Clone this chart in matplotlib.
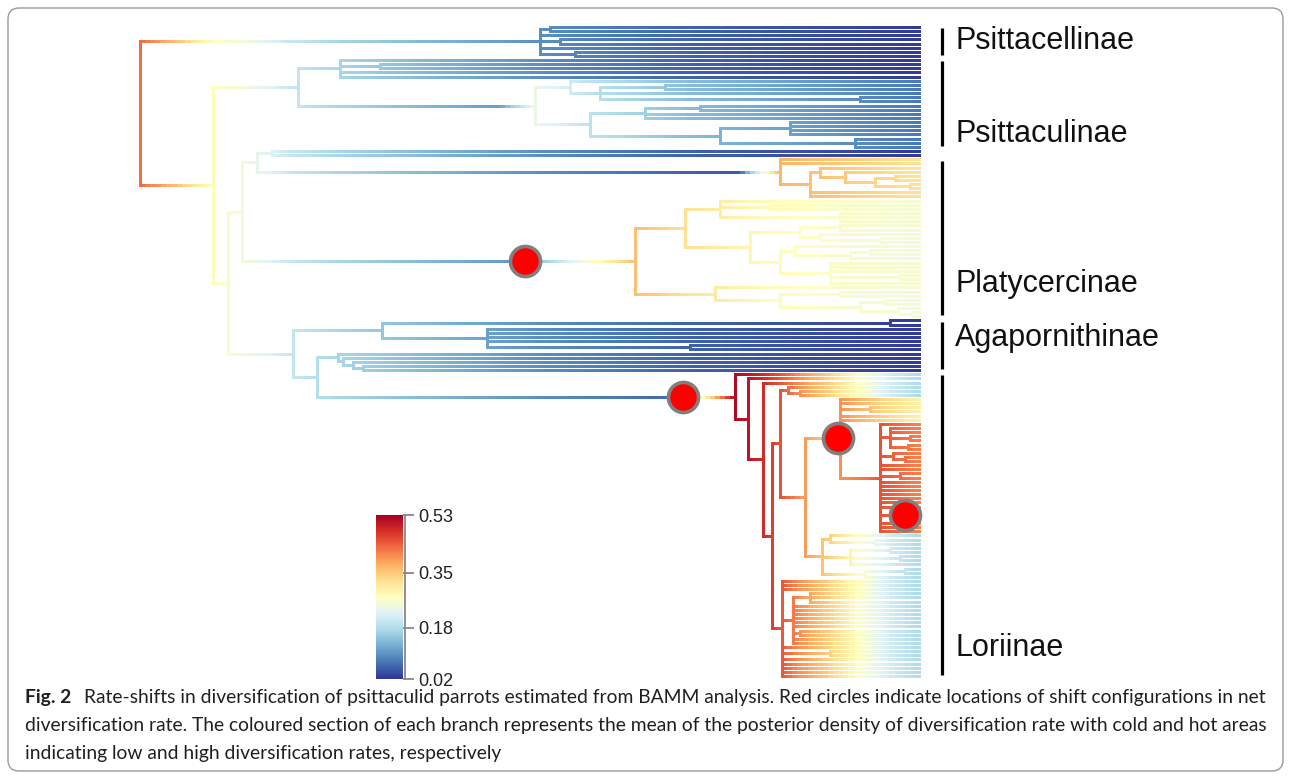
import re
import numpy as np
import matplotlib
matplotlib.use("Agg")
import matplotlib.pyplot as plt
from matplotlib.collections import LineCollection
from matplotlib.patches import FancyBboxPatch
from matplotlib import colors, cm
from matplotlib.transforms import IdentityTransform

# ---- tree topology: '*' = tip, ')t' = node age (Myr from root), ':name' = new rate regime
psittacellinae = "((*,*)41,*,(*,*)42,*,(*,*)43.5)40"
psittaculinae_a = "(*,(*,*)24,*,*)20"
psittaculinae_b1 = "(*,((*,*)52.5,*,(*,*)72)46)43"
psittaculinae_b2 = "(((*,*)56,*,*)50.5,((*,*,*,*)65,(*,*,*)71.5)58)45"
blue_pair = "(*,*)13.2"
platy_orange = "(*,*,((*,(*,((*,*)75.5,(*,*)77)73.5)70.5)68,*,*)67)64:platy2"
platy_upper = ("((*,(*,*)63,(*,*,*)70)58,(((*,*)70,(*,(*,*)74)68)66,"
               "((*,((*,*)73,*)71)65.5,(*,*,*,(*,*)76,*)69)64)61)54.5")
platy_lower = "(*,((*,*)70,((*,*)74.5,(*,(*,*)77.2)75.8)72)64)57.5"
agapornis_a = "((*,*)75,(*,*,*,*,(*,*)55)34.7)24.2"
agapornis_b = "(*,(*,(*,(*,*)22.3)21.3)20.3)19.8"
lori_red = ("(*,(*,*,(*,*)77,(*,*)76.8)75,(*,(*,*)76.5)75.3,*,*,(*,*)76,*,*,*,*,*,*,*,"
            "(*,*,*)77.2:lori3b,*,*,*)74:lori3")
lori_orange = f"(*,*,(*,*)73,*,*,{lori_red})70:lori2"
lori_yellow = "((*,(*,*)73.5)69,((*,*)75,(*,*)76,*)71,((*,*)76.5,*)72.5)68.2"
lori_comb = ("(*,*,*,((*,*,*)67,*,*,*,*,*,*,(*,*)66,*,*)65.3,*,(*,*)69,"
             "*,*,*,*,*)64.2")
loriinae = (f"(*,(*,(*,(((*,(*,*)66)64.8,({lori_orange},{lori_yellow})66.5)64,"
            f"{lori_comb})63.2)62.3)60.8)59.5:lori")
platy_main = f"({platy_upper},{platy_lower})49.5:platy"

tree_str = (f"({psittacellinae},"
            f"(({psittaculinae_a},({psittaculinae_b1},{psittaculinae_b2})39.5:psitta)15.8,"
            f"((({blue_pair},{platy_orange})11.7,{platy_main})10.2,"
            f"({agapornis_a},({agapornis_b},{loriinae})17.7)15.3)8.8)7.3)0")
tip_age = 78.0

# clades shown on the right (None = unlabelled tips)
clade_names = ["Psittacellinae", "Psittaculinae", None, "Platycercinae",
               "Agapornithinae", "Loriinae"]
clade_parts = [[psittacellinae], [psittaculinae_a, psittaculinae_b1, psittaculinae_b2],
               [blue_pair], [platy_orange, platy_upper, platy_lower],
               [agapornis_a, agapornis_b], [loriinae]]

# ---- mean net diversification rate through time for each regime
rate_t = {
    "bg": [0, 3.5, 7, 10.5, 15, 20, 30, 40, 56, 78],
    "psitta": [39.5, 45, 55, 78],
    "platy": [49.5, 55, 62, 70, 78],
    "platy2": [64, 78],
    "lori": [59.5, 62, 64, 66, 69, 72, 75, 78],
    "lori2": [70, 74, 78],
    "lori3": [74, 78],
    "lori3b": [77.2, 78],
}
rate_v = {
    "bg": [0.43, 0.36, 0.28, 0.25, 0.20, 0.17, 0.13, 0.095, 0.055, 0.025],
    "psitta": [0.24, 0.19, 0.14, 0.075],
    "platy": [0.36, 0.32, 0.285, 0.265, 0.255],
    "platy2": [0.37, 0.32],
    "lori": [0.52, 0.49, 0.45, 0.40, 0.34, 0.27, 0.21, 0.175],
    "lori2": [0.40, 0.34, 0.30],
    "lori3": [0.45, 0.41],
    "lori3b": [0.44, 0.42],
}
# where the colour starts to change on the stem of each regime
shift_start = {"psitta": 36, "platy": 38.5, "platy2": 60, "lori": 54.3,
               "lori2": 69.8, "lori3": 70, "lori3b": 76.5}
# shifts marked by a red circle
shift_circles = ["platy", "lori", "lori2", "lori3b"]

cbar_ticks = [0.02, 0.18, 0.35, 0.53]
caption_bold = "Fig. 2"
caption_lines = [
    "Rate-shifts in diversification of psittaculid parrots estimated from BAMM analysis. "
    "Red circles indicate locations of shift configurations in net",
    "diversification rate. The coloured section of each branch represents the mean of the "
    "posterior density of diversification rate with cold and hot areas",
    "indicating low and high diversification rates, respectively",
]


def parse(s):
    pos = 0

    def node():
        nonlocal pos
        if s[pos] == "*":
            pos += 1
            return {"kids": [], "t": tip_age, "tag": None}
        pos += 1
        kids = [node()]
        while s[pos] == ",":
            pos += 1
            kids.append(node())
        pos += 1
        m = re.match(r"([\d.]+)(?::(\w+))?", s[pos:])
        pos += m.end()
        return {"kids": kids, "t": float(m.group(1)), "tag": m.group(2)}

    return node()


def rate(reg, t):
    return np.interp(t, rate_t[reg], rate_v[reg])


root = parse(tree_str)

# layout: tips top to bottom, internal nodes in the middle of first/last child
counter = [0]
nodes = []


def layout(nd, parent):
    nd["parent"] = parent
    nd["regime"] = nd["tag"] or (parent["regime"] if parent else "bg")
    nodes.append(nd)
    if not nd["kids"]:
        nd["y"] = counter[0]
        counter[0] += 1
        return
    for k in nd["kids"]:
        layout(k, nd)
    nd["y"] = 0.5 * (nd["kids"][0]["y"] + nd["kids"][-1]["y"])


layout(root, None)
n_tips = counter[0]

cmap = plt.get_cmap("RdYlBu_r")
norm = colors.Normalize(vmin=0.02, vmax=0.53)

segs, cols = [], []
vsegs, vcols = [], []
circles = []
for nd in nodes:
    if nd["kids"]:
        vsegs.append([(nd["t"], nd["kids"][0]["y"]), (nd["t"], nd["kids"][-1]["y"])])
        vcols.append(cmap(norm(rate(nd["regime"], nd["t"]))))
    p = nd["parent"]
    if p is None:
        continue
    tp, tn = p["t"], nd["t"]
    n = max(2, int((tn - tp) / 0.5))
    ts = np.linspace(tp, tn, n + 1)
    mids = 0.5 * (ts[:-1] + ts[1:])
    if nd["tag"]:
        st = max(shift_start[nd["tag"]], tp)
        w = np.clip((mids - st) / max(tn - st, 1e-6), 0, 1) ** 0.8
        r = (1 - w) * rate(p["regime"], mids) + w * rate(nd["tag"], tn)
        if nd["tag"] in shift_circles:
            circles.append((shift_start[nd["tag"]], nd["y"]))
    else:
        r = rate(nd["regime"], mids)
    for a, b, rv in zip(ts[:-1], ts[1:], r):
        segs.append([(a, nd["y"]), (b, nd["y"])])
        cols.append(cmap(norm(rv)))

# ---- figure
W, H = 1290, 778
fig = plt.figure(figsize=(W / 100, H / 100), dpi=100)
fig.patch.set_facecolor("white")

# pixel mapping: t=0 at x=140, t=78 at x=920; first tip y=27, last tip y=676
ax = fig.add_axes([0, 0, 1, 1])
sp = (676 - 27) / (n_tips - 1)
ax.set_xlim(-14, 115)
ax.set_ylim((H - 27) / sp, -27 / sp)
ax.axis("off")

# no antialiasing on the short colour pieces, so they join without seams
ax.add_collection(LineCollection(segs, colors=cols, linewidths=1.8, capstyle="butt",
                                 antialiaseds=False))
ax.add_collection(LineCollection(vsegs, colors=vcols, linewidths=1.8,
                                 capstyle="projecting", antialiaseds=False))
cx, cy = zip(*circles)
ax.scatter(cx, cy, s=470, c="#ff0000", edgecolors="#808080", linewidths=2.6, zorder=5)

# clade bars and names
label_frac = {"Psittacellinae": 0.5, "Psittaculinae": 0.86, "Platycercinae": 0.8,
              "Agapornithinae": 0.35, "Loriinae": 0.91}
start = 0
for name, parts in zip(clade_names, clade_parts):
    cnt = sum(p.count("*") for p in parts)
    if name:
        y0, y1 = start + 0.3, start + cnt - 1.3
        ax.plot([80.2, 80.2], [y0, y1], color="black", lw=2.3, solid_capstyle="butt")
        ax.text(81.5, y0 + label_frac[name] * (y1 - y0), name, fontsize=22,
                family="Liberation Sans", va="center", ha="left", color="#111111")
    start += cnt

# colour bar
cax = fig.add_axes([376 / W, 1 - 679 / H, 27 / W, 164 / H])
cb = fig.colorbar(cm.ScalarMappable(norm=norm, cmap=cmap), cax=cax, ticks=cbar_ticks)
cb.outline.set_visible(False)
cax.plot([1.08, 1.08], [0, 1], transform=cax.transAxes, color="#888888", lw=1.3,
         clip_on=False)
cax.tick_params(axis="y", length=8, width=1.3, color="#888888", pad=3, labelsize=13)
cax.set_yticklabels(["%.2f" % v for v in cbar_ticks])
for lbl in cax.get_yticklabels():
    lbl.set_family("Liberation Sans")
    lbl.set_color("#222222")

# caption
renderer = fig.canvas.get_renderer()
fs = 13
probe = fig.text(0, 0, caption_lines[1], fontsize=fs, family="Lato")
wid = probe.get_window_extent(renderer).width
probe.remove()
fs = fs * (1243 / wid)
line_y = [697, 726, 754]
bold = fig.text(25 / W, 1 - line_y[0] / H, caption_bold, fontsize=fs, family="Lato",
                weight="bold", va="center", color="#231f20")
bw = bold.get_window_extent(renderer).width
fig.text((25 + bw + 13) / W, 1 - line_y[0] / H, caption_lines[0], fontsize=fs,
         family="Lato", va="center", color="#231f20")
for txt, yy in zip(caption_lines[1:], line_y[1:]):
    fig.text(25 / W, 1 - yy / H, txt, fontsize=fs, family="Lato", va="center",
             color="#231f20")

# rounded frame
frame = FancyBboxPatch((8, H - 771), 1275, 763, boxstyle="round,pad=0,rounding_size=11",
                       transform=IdentityTransform(), fill=False, edgecolor="#9a9a9a",
                       lw=1.0)
fig.add_artist(frame)

fig.savefig("out.png", dpi=100)
